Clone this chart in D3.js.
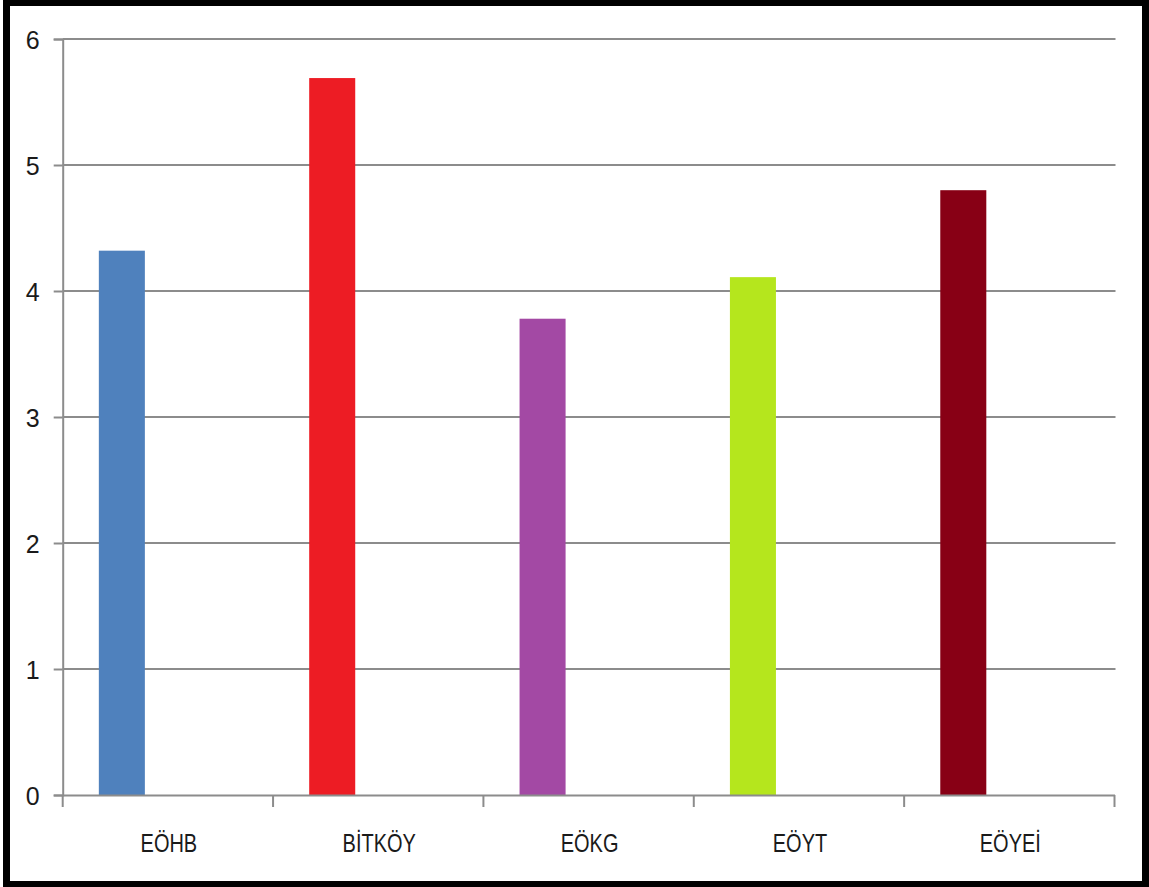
<!DOCTYPE html>
<html>
<head>
<meta charset="utf-8">
<script src="https://cdn.jsdelivr.net/npm/d3@7"></script>
<style>
html,body{margin:0;padding:0;background:#fff;}
svg{display:block;}
</style>
</head>
<body>
<svg id="chart" width="1149" height="887"></svg>
<script>
const categories = ["EÖHB", "BİTKÖY", "EÖKG", "EÖYT", "EÖYEİ"];
const values = [4.32, 5.69, 3.78, 4.11, 4.80];
const colors = ["#4F81BD", "#ED1C24", "#A349A4", "#B5E61D", "#880015"];
const yTicks = [0, 1, 2, 3, 4, 5, 6];
const slots = ["s0", "s1", "s2"];

const svg = d3.select("#chart");
const mLeft = 62.7, mRight = 1114.5, mTop = 39, mBottom = 795;

// outer border
svg.append("rect").attr("x", 6.5).attr("y", 2.5).attr("width", 1139).attr("height", 882)
  .attr("fill", "#fff").attr("stroke", "#000").attr("stroke-width", 7);

const y = d3.scaleLinear().domain([0, 6]).range([mBottom, mTop]);
const x = d3.scaleBand().domain(categories).range([mLeft, mRight]).paddingInner(0).paddingOuter(0);
const xs = d3.scaleBand().domain(slots).range([0, x.bandwidth()]).paddingInner(0).paddingOuter(0.785);

// gridlines
svg.append("g").selectAll("line").data(yTicks.filter(d => d > 0)).join("line")
  .attr("x1", mLeft).attr("x2", mRight + 1)
  .attr("y1", d => y(d)).attr("y2", d => y(d))
  .attr("stroke", "#8c8c8c").attr("stroke-width", 2);

// bars
svg.append("g").selectAll("rect").data(categories).join("rect")
  .attr("x", d => x(d) + xs("s0"))
  .attr("width", xs.bandwidth())
  .attr("y", (d, i) => y(values[i]))
  .attr("height", (d, i) => mBottom - y(values[i]))
  .attr("fill", (d, i) => colors[i]);

// y axis
const yAxis = d3.axisLeft(y).tickValues(yTicks).tickSize(9).tickPadding(14).tickFormat(d3.format("d"));
const gy = svg.append("g").attr("transform", `translate(${mLeft},0)`).call(yAxis);
gy.select(".domain").attr("stroke", "#8c8c8c").attr("stroke-width", 2);
gy.selectAll(".tick line").attr("stroke", "#8c8c8c").attr("stroke-width", 2);
gy.selectAll(".tick text")
  .attr("font-family", "Liberation Sans, Arial, sans-serif")
  .attr("font-size", 25).attr("fill", "#1a1a1a")
  .attr("dy", "0.36em");

// x axis
const xAxis = d3.axisBottom(x).tickSize(0).tickPadding(0);
const gx = svg.append("g").attr("transform", `translate(0,${mBottom})`).call(xAxis);
gx.select(".domain").attr("stroke", "#8c8c8c").attr("stroke-width", 2);
gx.selectAll(".tick text").remove();
// category boundary ticks
const bounds = categories.map(c => x(c)).concat([x(categories[categories.length - 1]) + x.bandwidth()]);
gx.append("g").selectAll("line").data(bounds).join("line")
  .attr("x1", d => d).attr("x2", d => d).attr("y1", 0).attr("y2", 12)
  .attr("stroke", "#8c8c8c").attr("stroke-width", 2);
// category labels (condensed)
gx.append("g").selectAll("text").data(categories).join("text")
  .attr("transform", d => `translate(${x(d) + x.bandwidth() / 2 + 1},57) scale(0.8,1)`)
  .attr("text-anchor", "middle")
  .attr("font-family", "Liberation Sans, Arial, sans-serif")
  .attr("font-size", 25).attr("fill", "#1a1a1a")
  .text(d => d);
</script>
</body>
</html>
